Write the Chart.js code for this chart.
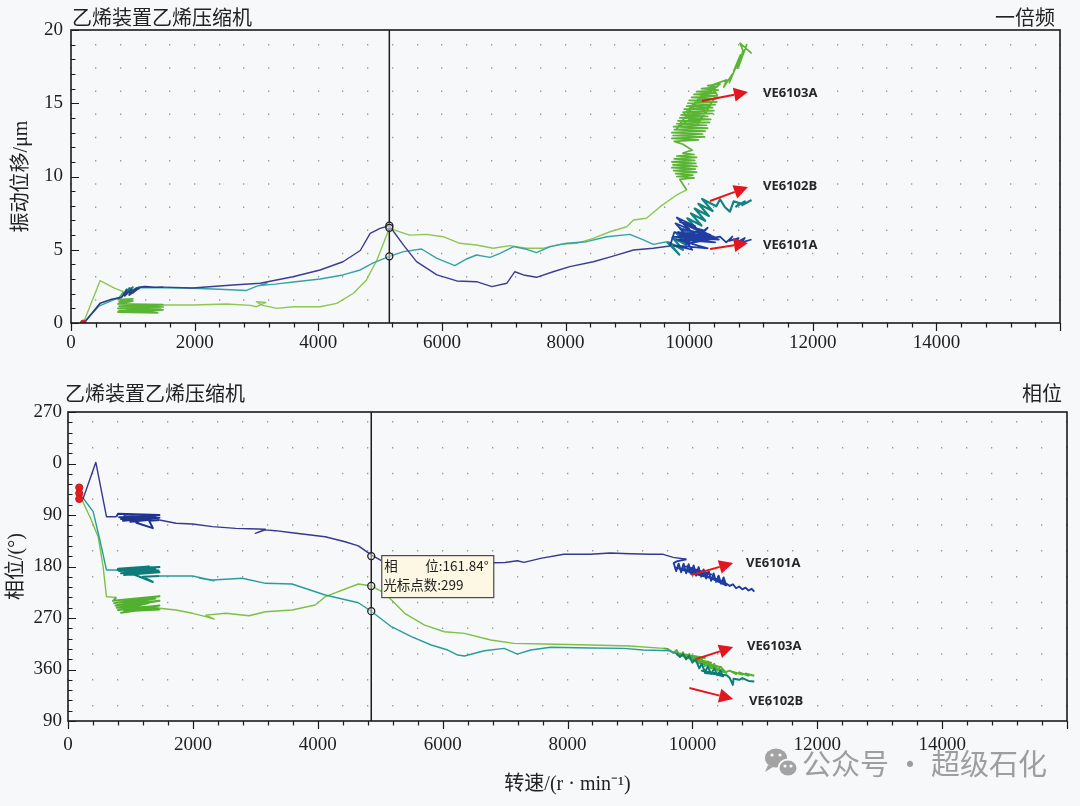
<!DOCTYPE html>
<html><head><meta charset="utf-8">
<script src="https://cdn.jsdelivr.net/npm/chart.js@4.4.1/dist/chart.umd.min.js"></script>
<style>
html,body{margin:0;padding:0;background:#f7f8fa;width:1080px;height:806px;overflow:hidden;}
#w1{position:absolute;left:0;top:0;width:1080px;height:360px;}
#w2{position:absolute;left:0;top:360px;width:1080px;height:446px;}
</style></head><body>
<div id="w1"><canvas id="c1"></canvas></div>
<div id="w2"><canvas id="c2"></canvas></div>
<script>
// ---------------- axis / tick labels ----------------
const speedLabels = [0, 2000, 4000, 6000, 8000, 10000, 12000, 14000];
const ampLabels = [0, 5, 10, 15, 20];
const phaseTickValues = [-90, 0, 90, 180, 270, 360, 450];
const phaseTickText = ['270', '0', '90', '180', '270', '360', '90'];

// ---------------- TOP: 1X displacement (μm) vs speed (r/min) ----------------
// VE6101A
const A_top_pre_rpm = [200, 230, 470, 660, 820, 900, 870, 980, 940, 1060, 1000, 1120, 1200, 1350, 1500];
const A_top_pre_amp = [0, 0.1, 1.34, 1.62, 1.75, 2.2, 1.85, 2.3, 1.9, 2.4, 2.05, 2.45, 2.48, 2.44, 2.45];
const A_top_mid_rpm = [1500, 1970, 2620, 3060, 3590, 4030, 4400, 4680, 4840, 5000, 5150, 5380, 5590, 5920, 6240, 6560, 6810, 7050, 7180, 7320, 7530, 7800, 8070, 8450, 8770, 9100, 9420, 9690];
const A_top_mid_amp = [2.45, 2.39, 2.59, 2.71, 3.16, 3.62, 4.18, 4.95, 6.12, 6.46, 6.64, 5.32, 4.19, 3.28, 2.87, 2.82, 2.48, 2.71, 3.5, 3.28, 3.12, 3.5, 3.85, 4.18, 4.57, 4.98, 5.1, 5.26];
const A_top_end_rpm = [9690, 9760, 9950, 9780, 10000, 9800, 10100, 9850, 10180, 9900, 10050, 9760, 10300, 9800, 10420, 9750, 10480, 9820, 10400, 9900, 10350, 10000, 10250, 9850, 10450, 9950, 10300, 10100, 10500, 10600, 10700, 10650, 10800, 10750, 10900, 10850, 11010];
const A_top_end_amp = [5.26, 6.2, 6.0, 6.8, 6.4, 7.2, 6.6, 6.9, 6.3, 5.9, 5.0, 5.3, 5.1, 5.7, 5.5, 5.9, 5.7, 6.2, 5.9, 6.4, 6.0, 6.6, 6.3, 6.0, 5.8, 5.4, 6.5, 5.6, 5.9, 5.5, 5.9, 5.6, 5.8, 5.45, 5.8, 5.5, 5.7];
// VE6102B
const B_top_pre_rpm = [200, 450, 700, 830];
const B_top_pre_amp = [0, 1.15, 1.6, 1.85];
const B_top_b1_rpm = [830, 900, 860, 950, 880, 1000, 920, 1050, 960, 1100, 1010, 1120];
const B_top_b1_amp = [1.85, 2.3, 1.95, 2.4, 2.0, 2.45, 2.1, 2.35, 1.95, 2.45, 2.2, 2.4];
const B_top_mid_rpm = [1120, 1300, 1500, 1970, 2400, 2840, 3000, 3170, 3050, 3300, 3600, 4030, 4400, 4680, 4890, 5150, 5380, 5670, 5920, 6210, 6400, 6560, 6780, 6940, 7160, 7370, 7530, 7750, 8020, 8340, 8670, 9040, 9260, 9420, 9640];
const B_top_mid_amp = [2.4, 2.42, 2.4, 2.37, 2.3, 2.22, 2.5, 2.72, 2.55, 2.65, 2.8, 3.0, 3.28, 3.62, 4.1, 4.55, 4.87, 5.05, 4.41, 3.91, 4.37, 4.64, 4.48, 4.75, 5.21, 5.03, 4.8, 5.21, 5.44, 5.55, 5.89, 6.05, 5.67, 5.37, 5.55];
const B_top_end_rpm = [9640, 9840, 9670, 9900, 9730, 9960, 9790, 10020, 9850, 10080, 9910, 10140, 9970, 10200, 10030, 10260, 10090, 10320, 10150, 10380, 10210, 10440, 10500, 10580, 10660, 10720, 10823, 10760, 10900, 10860, 11010];
const B_top_end_amp = [5.55, 4.67, 5.5, 5.0, 5.83, 5.33, 6.16, 5.66, 6.49, 5.99, 6.82, 6.32, 7.15, 6.65, 7.48, 6.98, 7.81, 7.31, 8.14, 7.64, 8.47, 7.97, 8.45, 7.9, 7.6, 8.3, 8.17, 7.95, 8.3, 8.05, 8.4];
// VE6103A
const C_top_pre_rpm = [200, 470, 710, 850];
const C_top_pre_amp = [0, 2.89, 2.37, 2.14];
const C_top_b1_rpm = [850, 760, 1000, 780, 1000, 760, 1490, 780, 1490, 760, 1450, 780, 1490, 760, 1400, 900, 1300, 800, 1490];
const C_top_b1_amp = [2.14, 1.6, 1.65, 1.45, 1.5, 1.3, 1.25, 1.15, 1.1, 1.0, 0.95, 0.85, 0.9, 0.75, 0.7, 0.95, 1.15, 1.05, 1.23];
const C_top_mid_rpm = [1490, 1980, 2520, 2900, 3000, 3150, 3000, 3100, 3330, 3600, 4030, 4300, 4570, 4780, 4950, 5150, 5480, 5750, 6020, 6290, 6560, 6830, 7100, 7370, 7640, 7910, 8180, 8450, 8720, 8990, 9100, 9310, 9530, 9800, 9960];
const C_top_mid_amp = [1.23, 1.23, 1.3, 1.2, 1.11, 1.4, 1.45, 1.2, 1.0, 1.11, 1.11, 1.34, 2.03, 2.94, 4.3, 6.46, 6.0, 6.05, 5.89, 5.44, 5.32, 5.1, 5.28, 5.1, 5.1, 5.37, 5.44, 5.78, 6.23, 6.57, 7.03, 7.15, 7.94, 8.74, 9.08];
const C_top_end_rpm = [9960, 9850, 10080, 9800, 10060, 9780, 10120, 9750, 10100, 9720, 10127, 9740, 10110, 9720, 10090, 9760, 10120, 9800, 10080, 9900, 10050, 9900,
  9760, 10150, 9720, 10250, 9740, 10220, 9720, 10260, 9760, 10300, 9750, 10280, 9800, 10330, 9820, 10350, 9850, 10300, 9870, 10380, 9900, 10400, 9920, 10380, 9960, 10420, 9980, 10450, 10000, 10430, 10040, 10460, 10080, 10440, 10120, 10470, 10200, 10450, 10300, 10500,
  9900, 10200, 9800, 10350, 10000, 10450, 10350,
  10608, 10560, 10700, 10650, 10770, 10720, 10830, 10780, 10932, 10800, 10870, 10823, 11012];
const C_top_end_amp = [9.08, 9.8, 9.9, 10.0, 10.1, 10.2, 10.3, 10.4, 10.5, 10.6, 10.7, 10.8, 10.9, 11.0, 11.1, 11.2, 11.3, 11.4, 11.5, 11.6, 11.8, 12.2,
  12.4, 12.5, 12.6, 12.7, 12.8, 12.9, 13.0, 13.1, 13.2, 13.3, 13.4, 13.5, 13.6, 13.7, 13.8, 13.9, 14.0, 14.1, 14.2, 14.3, 14.4, 14.5, 14.6, 14.7, 14.8, 14.9, 15.0, 15.1, 15.2, 15.3, 15.4, 15.5, 15.6, 15.7, 15.8, 15.9, 16.0, 16.1, 16.2, 16.3,
  14.2, 15.5, 13.3, 14.9, 12.7, 15.6, 16.2,
  16.6, 16.1, 17.0, 16.4, 17.6, 17.2, 18.3, 17.4, 19.0, 17.5, 18.6, 19.1, 18.4];

const topStartRpm = [200];
const topStartAmp = [0];
const topCursorRpm = 5150;
const topCursorAmp = [6.64, 6.5, 4.55];

// ---------------- BOTTOM: phase (deg) vs speed ----------------
const A_bot_pre_rpm = [200, 244, 446, 616, 775];
const A_bot_pre_deg = [58, 60.8, -2, 93, 93];
const A_bot_b1_rpm = [775, 800, 1465, 820, 1400, 850, 1300, 880, 1465, 900, 1350, 1000, 1200, 1094, 1359, 1300, 1465];
const A_bot_b1_deg = [93, 88, 90, 94, 92, 97, 90, 100, 95, 92, 98, 102, 96, 103.5, 113, 100, 98.7];
const A_bot_mid_rpm = [1465, 1730, 1996, 2314, 2686, 2900, 3160, 3000, 3160, 3323, 3588, 4119, 4438, 4650, 4862, 5048, 5300, 5600, 5900, 6200, 6500, 6800, 7000, 7197, 7303, 7569, 7941, 8365, 8683, 9002, 9320, 9533, 9693, 9904];
const A_bot_mid_deg = [98.7, 104.5, 105.7, 110.4, 113.3, 114, 115, 122, 116, 117.4, 121, 128, 136.7, 144, 160, 171.6, 173, 174, 175, 174, 175, 173.4, 173, 170, 172.7, 165.7, 158.7, 158.7, 156.4, 157.6, 158.7, 158.7, 164, 167.4];
const A_bot_end_rpm = [9904, 9750, 9700, 9740, 9780, 9820, 9860, 9900, 9940, 9980, 10020, 10060, 10100, 10140, 10180, 10220, 10260, 10300, 10340, 10380, 10420, 10460, 10500, 10541, 9900, 10300, 9720, 10150, 9800, 10400, 9950, 10489, 10600, 10650, 10700, 10750, 10800, 10850, 10900, 10950, 10992];
const A_bot_end_deg = [167.4, 171, 174, 188, 175, 190, 175, 192, 176, 193, 178, 196, 181, 198, 185, 201, 188, 205, 192, 207, 196, 210, 199, 213, 180, 194, 182, 190, 185, 202, 190, 206, 214, 211, 218, 215, 220, 217, 222, 219, 224];

const B_bot_pre_rpm = [200, 244, 403, 510, 616, 775];
const B_bot_pre_deg = [58, 60.8, 84, 133.7, 186, 186];
const B_bot_b1_rpm = [775, 1300, 800, 1465, 820, 1400, 850, 1450, 900, 1465, 987, 1359, 1200, 1465];
const B_bot_b1_deg = [186, 180, 184, 181, 188, 185, 192, 187, 195, 190, 191, 207, 198, 196.6];
const B_bot_mid_rpm = [1465, 1996, 2340, 2100, 2314, 2792, 3164, 3588, 4119, 4650, 4851, 5180, 5499, 5817, 6083, 6242, 6349, 6667, 6986, 7197, 7410, 7728, 8365, 8896, 9215, 9639, 9745];
const B_bot_mid_deg = [196.6, 196.6, 204.8, 200, 203.6, 200.6, 209.4, 210.6, 229.8, 243.3, 257.8, 285.2, 302.7, 317.2, 326, 334.7, 336.4, 327.2, 323, 333, 326, 321.2, 322.4, 323, 326, 327.2, 331.7];
const B_bot_end_rpm = [9745, 9800, 9850, 9900, 9950, 10000, 10050, 10111, 10150, 10200, 10250, 10300, 10350, 10400, 10450, 10493, 10150, 10450, 10200, 10550, 10600, 10648, 10660, 10750, 10800, 10900, 10992];
const B_bot_end_deg = [331.7, 338, 333, 342, 336, 348, 342, 358, 350, 364, 355, 368, 358, 370, 362, 372, 362, 368, 366, 370, 375, 387, 376, 378, 375, 380, 381];

const C_bot_pre_rpm = [200, 350, 483, 562, 616, 775];
const C_bot_pre_deg = [58, 93, 128, 180, 232.8, 233.9];
const C_bot_b1_rpm = [775, 720, 1465, 740, 1400, 760, 1465, 780, 1300, 800, 1465, 850, 1400, 900, 1465, 1000, 1465];
const C_bot_b1_deg = [233.9, 240, 232, 244, 236, 248, 240, 252, 244, 256, 248, 261, 252, 258, 255, 250, 253];
const C_bot_mid_rpm = [1465, 1730, 1996, 2208, 2341, 2208, 2527, 2898, 3164, 3588, 3960, 4119, 4650, 4862, 5074, 5393, 5711, 6029, 6349, 6772, 7145, 7622, 8365, 9002, 9533];
const C_bot_mid_deg = [253, 256, 261.8, 267.7, 272, 265, 261.8, 266, 259, 256, 247.3, 232.8, 210.6, 214, 226.9, 261.8, 282.3, 294, 296.8, 308.5, 314.3, 315.5, 317.2, 319, 323];
const C_bot_end_rpm = [9533, 9600, 9693, 9750, 9800, 9850, 9900, 9950, 10000, 10050, 10100, 10150, 10200, 10250, 10300, 10350, 10400, 10450, 10541, 9700, 10200, 9750, 10300, 9900, 10450, 10050, 10541, 10600, 10700, 10650, 10800, 10750, 10900, 10850, 10992];
const C_bot_end_deg = [323, 324, 331, 326, 338, 330, 342, 333, 346, 338, 350, 342, 354, 346, 358, 350, 362, 355, 366, 330, 340, 334, 348, 338, 356, 346, 364, 362, 368, 364, 369, 365, 371, 367, 371];

const botStartRpm = [180, 180, 180];
const botStartDeg = [42, 52, 62];
const botCursorRpm = 4857;
const botCursorDeg = [161.84, 214, 258];
const cursorPointCount = 299;

// annotation arrows: [fromRpm, fromVal, toRpm, toVal, labelRpm, labelVal, name]
const topArrows = [
  [10208, 15.15, 10952, 15.77, 11195, 15.7, 'VE6103A'],
  [10338, 8.33, 10952, 9.28, 11195, 9.35, 'VE6102B'],
  [10338, 5.05, 10952, 5.46, 11195, 5.32, 'VE6101A']
];
const botArrows = [
  [9984, 194.9, 10653, 173.9, 10860, 174, 'VE6101A'],
  [10064, 341.7, 10653, 320.7, 10876, 319, 'VE6103A'],
  [9952, 392.3, 10653, 411.6, 10908, 415, 'VE6102B']
];

// ---------------- helpers ----------------
const pts = (xs, ys) => xs.slice(0, Math.min(xs.length, ys.length)).map((v, i) => ({x: v, y: ys[i]}));
const SERIF = '"Liberation Serif", "Noto Sans CJK SC", serif';
const CJK = '"Noto Sans CJK SC", sans-serif';

function lineSet(data, color, w) {
  return {data, showLine: true, borderColor: color, borderWidth: w, pointRadius: 0, tension: 0, fill: false, borderJoinStyle: 'round'};
}

const decoPlugin = {
  id: 'deco',
  afterDraw(chart, args, o) {
    const {ctx, chartArea: a, scales: {x, y}} = chart;
    ctx.save();
    ctx.strokeStyle = '#1b1b1b';
    ctx.lineWidth = 1.2;
    ctx.beginPath();
    x.ticks.forEach(t => {
      const px = Math.round(x.getPixelForValue(t.value)) + 0.5;
      const L = speedLabels.includes(t.value) || t.value === 16000 ? 8 : 4.5;
      ctx.moveTo(px, a.bottom); ctx.lineTo(px, a.bottom + L);
    });
    y.ticks.forEach(t => {
      const py = Math.round(y.getPixelForValue(t.value)) + 0.5;
      const L = o.yMajor(t.value) ? 8 : 4.5;
      ctx.moveTo(a.left, py); ctx.lineTo(a.left + L, py);
    });
    ctx.stroke();
    ctx.lineWidth = 1.6;
    ctx.strokeRect(a.left, a.top, a.right - a.left, a.bottom - a.top);
    ctx.fillStyle = '#222';
    ctx.font = '20px ' + CJK;
    ctx.textBaseline = 'middle';
    ctx.textAlign = 'left';
    ctx.fillText('乙烯装置乙烯压缩机', a.left + o.hdrDx, a.top - o.hdrDy);
    ctx.textAlign = 'right';
    ctx.fillText(o.rightTitle, a.right - 5, a.top - o.hdrDy);
    o.arrows.forEach(ar => {
      const x1 = x.getPixelForValue(ar[0]), y1 = y.getPixelForValue(ar[1]);
      const x2 = x.getPixelForValue(ar[2]), y2 = y.getPixelForValue(ar[3]);
      const ang = Math.atan2(y2 - y1, x2 - x1);
      const hl = 14, hw = 7;
      const bx = x2 - hl * Math.cos(ang), by = y2 - hl * Math.sin(ang);
      ctx.strokeStyle = '#e3161d'; ctx.fillStyle = '#e3161d';
      ctx.lineWidth = 2;
      ctx.beginPath(); ctx.moveTo(x1, y1); ctx.lineTo(bx, by); ctx.stroke();
      ctx.beginPath();
      ctx.moveTo(x2, y2);
      ctx.lineTo(bx + hw * Math.sin(ang), by - hw * Math.cos(ang));
      ctx.lineTo(bx - hw * Math.sin(ang), by + hw * Math.cos(ang));
      ctx.closePath(); ctx.fill();
      ctx.fillStyle = '#262626';
      ctx.font = 'bold 13px "Open Sans", "Noto Sans", sans-serif';
      ctx.textAlign = 'left'; ctx.textBaseline = 'middle';
      ctx.fillText(ar[6], x.getPixelForValue(ar[4]), y.getPixelForValue(ar[5]));
    });
    if (o.extra) o.extra(chart);
    ctx.restore();
  }
};

function baseOptions(cfg) {
  return {
    responsive: true, maintainAspectRatio: false, animation: false, devicePixelRatio: 1, events: [],
    layout: {padding: cfg.padding},
    plugins: {legend: {display: false}, tooltip: {enabled: false}, deco: cfg.deco},
    scales: {
      x: {
        type: 'linear', min: 0, max: 16000,
        afterFit: s => { s.height = cfg.xH; },
        ticks: {stepSize: 400, autoSkip: false, maxRotation: 0, padding: cfg.xPad, color: '#1e1e1e',
          font: {family: SERIF, size: 19},
          callback: v => speedLabels.includes(v) ? String(v) : ''},
        grid: {drawTicks: false, color: '#9a9a9a', lineWidth: 1.3},
        border: {display: false, dash: cfg.dash, dashOffset: cfg.dashOffset},
        title: cfg.xTitle
      },
      y: cfg.y
    }
  };
}

// ---------------- TOP CHART ----------------
const topDatasets = [
  {data: pts(topCursorAmp.map(() => topCursorRpm), topCursorAmp), showLine: false, pointRadius: 3.5,
   pointBorderColor: '#1e1e1e', pointBackgroundColor: 'rgba(235,235,235,0.5)', pointBorderWidth: 1.3},
  lineSet(pts([topCursorRpm, topCursorRpm], [0, 20]), '#1e1e1e', 1.5),
  {data: pts(topStartRpm, topStartAmp), showLine: false, pointRadius: 3, pointBackgroundColor: '#e02020', pointBorderColor: '#e02020'},
  lineSet(pts(A_top_end_rpm, A_top_end_amp), '#1f3da3', 1.8),
  lineSet(pts(A_top_mid_rpm, A_top_mid_amp), '#3b3d8f', 1.4),
  lineSet(pts(A_top_pre_rpm, A_top_pre_amp), '#2c3a8c', 1.6),
  lineSet(pts(B_top_end_rpm, B_top_end_amp), '#138381', 2.2),
  lineSet(pts(B_top_mid_rpm, B_top_mid_amp), '#34a3a6', 1.4),
  lineSet(pts(B_top_b1_rpm, B_top_b1_amp), '#0e7b7b', 1.8),
  lineSet(pts(B_top_pre_rpm, B_top_pre_amp), '#34a3a6', 1.4),
  lineSet(pts(C_top_end_rpm, C_top_end_amp), '#5bb535', 1.7),
  lineSet(pts(C_top_mid_rpm, C_top_mid_amp), '#8dc650', 1.4),
  lineSet(pts(C_top_b1_rpm, C_top_b1_amp), '#5bb535', 1.8),
  lineSet(pts(C_top_pre_rpm, C_top_pre_amp), '#8dc650', 1.4)
];

new Chart(document.getElementById('c1'), {
  type: 'scatter',
  data: {datasets: topDatasets},
  plugins: [decoPlugin],
  options: baseOptions({
    padding: {top: 30, right: 20, left: 0, bottom: 0},
    xH: 37, xPad: 9, dash: [1.5, 21.7], dashOffset: 9.2,
    xTitle: {display: false},
    deco: {rightTitle: '一倍频', hdrDx: 1, hdrDy: 13, arrows: topArrows,
      yMajor: v => ampLabels.includes(v)},
    y: {
      type: 'linear', min: 0, max: 20,
      afterFit: s => { s.width = 71; },
      ticks: {stepSize: 1, autoSkip: false, padding: 8, color: '#1e1e1e', font: {family: SERIF, size: 19},
        callback: v => ampLabels.includes(v) ? String(v) : ''},
      grid: {display: false, drawTicks: false},
      border: {display: false},
      title: {display: true, text: '振动位移/μm', color: '#222', font: {family: SERIF, size: 20}, padding: {top: 10, bottom: 0}}
    }
  })
});

// ---------------- BOTTOM CHART ----------------
const botDatasets = [
  {data: pts(botCursorDeg.map(() => botCursorRpm), botCursorDeg), showLine: false, pointRadius: 3.5,
   pointBorderColor: '#1e1e1e', pointBackgroundColor: 'rgba(235,235,235,0.5)', pointBorderWidth: 1.3},
  lineSet(pts([botCursorRpm, botCursorRpm], [-90, 450]), '#1e1e1e', 1.5),
  {data: pts(botStartRpm, botStartDeg), showLine: false, pointRadius: 3.6, pointBackgroundColor: '#e02020', pointBorderColor: '#d01818'},
  lineSet(pts(A_bot_end_rpm, A_bot_end_deg), '#1f3aa0', 1.9),
  lineSet(pts(A_bot_mid_rpm, A_bot_mid_deg), '#35388e', 1.4),
  lineSet(pts(A_bot_b1_rpm, A_bot_b1_deg), '#1f338f', 2.0),
  lineSet(pts(A_bot_pre_rpm, A_bot_pre_deg), '#35388e', 1.4),
  lineSet(pts(B_bot_end_rpm, B_bot_end_deg), '#0f7c7c', 2.0),
  lineSet(pts(B_bot_mid_rpm, B_bot_mid_deg), '#2b9b9c', 1.4),
  lineSet(pts(B_bot_b1_rpm, B_bot_b1_deg), '#0f7c7c', 2.0),
  lineSet(pts(B_bot_pre_rpm, B_bot_pre_deg), '#2b9b9c', 1.4),
  lineSet(pts(C_bot_end_rpm, C_bot_end_deg), '#52b030', 1.9),
  lineSet(pts(C_bot_mid_rpm, C_bot_mid_deg), '#7cc044', 1.4),
  lineSet(pts(C_bot_b1_rpm, C_bot_b1_deg), '#52b030', 2.0),
  lineSet(pts(C_bot_pre_rpm, C_bot_pre_deg), '#7cc044', 1.4)
];

function botExtra(chart) {
  const {ctx, scales: {x, y}} = chart;
  const bx = x.getPixelForValue(botCursorRpm) + 10;
  const by = y.getPixelForValue(botCursorDeg[0]) - 1;
  ctx.fillStyle = '#fcf8e3';
  ctx.fillRect(bx, by, 112, 42);
  ctx.strokeStyle = '#4a4a4a'; ctx.lineWidth = 1.2;
  ctx.strokeRect(bx + 0.5, by + 0.5, 112, 42);
  ctx.fillStyle = '#1e1e1e';
  ctx.font = '13.5px "Noto Sans CJK SC", "Noto Sans", sans-serif';
  ctx.textAlign = 'left'; ctx.textBaseline = 'middle';
  ctx.fillText('相', bx + 3, by + 11);
  ctx.fillText('位:' + botCursorDeg[0].toFixed(2) + '°', bx + 44, by + 11);
  ctx.fillText('光标点数:' + cursorPointCount, bx + 2, by + 30);
  const wy = 763 - 360;
  ctx.fillStyle = '#a3a3a3';
  ctx.beginPath(); ctx.ellipse(776, wy - 5, 11, 9.5, 0, 0, Math.PI * 2); ctx.fill();
  ctx.beginPath(); ctx.moveTo(768, wy + 2); ctx.lineTo(765, wy + 9); ctx.lineTo(773, wy + 4); ctx.fill();
  ctx.strokeStyle = '#f7f8fa'; ctx.lineWidth = 2;
  ctx.beginPath(); ctx.ellipse(788, wy + 5, 9.5, 8.5, 0, 0, Math.PI * 2); ctx.fill(); ctx.stroke();
  ctx.fillStyle = '#f7f8fa';
  [[772, wy - 8], [780, wy - 8], [785, wy + 3], [791, wy + 3]].forEach(p => { ctx.beginPath(); ctx.arc(p[0], p[1], 1.6, 0, Math.PI * 2); ctx.fill(); });
  ctx.fillStyle = '#9e9e9e';
  ctx.font = '29px "Noto Sans CJK SC", sans-serif';
  ctx.textAlign = 'left'; ctx.textBaseline = 'middle';
  ctx.fillText('公众号 · 超级石化', 802, wy + 1);
}

new Chart(document.getElementById('c2'), {
  type: 'scatter',
  data: {datasets: botDatasets},
  plugins: [decoPlugin],
  options: baseOptions({
    padding: {top: 52, right: 7, left: 0, bottom: 0},
    xH: 85, xPad: 13, dash: [1.5, 24.3], dashOffset: 16.7,
    xTitle: {display: true, text: '转速/(r · min⁻¹)', color: '#222', font: {family: SERIF, size: 20}, padding: {top: 0, bottom: 9}},
    deco: {rightTitle: '相位', hdrDx: -3, hdrDy: 19, arrows: botArrows, extra: botExtra,
      yMajor: v => phaseTickValues.includes(v)},
    y: {
      type: 'linear', min: -90, max: 450, reverse: true,
      afterFit: s => { s.width = 68; },
      ticks: {stepSize: 18, autoSkip: false, padding: 6, color: '#1e1e1e', font: {family: SERIF, size: 19},
        callback: v => { const i = phaseTickValues.indexOf(v); return i >= 0 ? phaseTickText[i] : ''; }},
      grid: {display: false, drawTicks: false},
      border: {display: false},
      title: {display: true, text: '相位/(°)', color: '#222', font: {family: SERIF, size: 20}, padding: {top: 5, bottom: 0}}
    }
  })
});
</script>
</body></html>
